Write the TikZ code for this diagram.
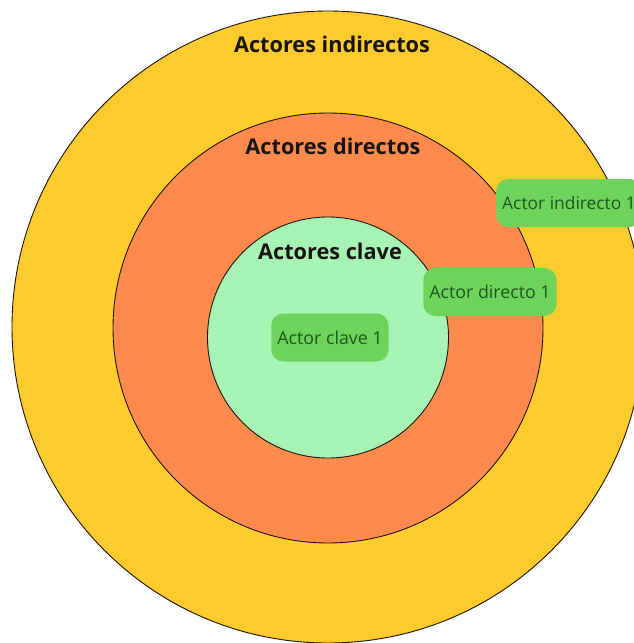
\documentclass[tikz,border=0pt]{standalone}
\usepackage{fontspec}
\setmainfont{Open Sans}
\definecolor{ringout}{HTML}{FECB2E}
\definecolor{ringmid}{HTML}{FE8B4D}
\definecolor{ringin}{HTML}{A7F3B4}
\definecolor{chip}{HTML}{6DD35A}
\definecolor{chiptext}{HTML}{1B561D}
\definecolor{titletext}{HTML}{161414}
\begin{document}
\begin{tikzpicture}[x=1pt,y=-1pt,
  ring/.style={draw=black!85!brown, line width=0.9pt},
  ringtitle/.style={font=\bfseries\fontsize{21.7}{24}\selectfont, text=titletext, inner sep=0pt},
  actor/.style={fill=chip, rounded corners=12pt, text=chiptext,
    font=\fontsize{17.8}{20}\selectfont, minimum height=48pt,
    inner xsep=6pt, inner ysep=0pt}]
  \clip (0,0) rectangle (634,643);
  \fill[white] (0,0) rectangle (634,643);

  % three nested rings
  \filldraw[ring, fill=ringout] (328,327) circle[radius=316pt];
  \filldraw[ring, fill=ringmid] (328,328) circle[radius=215pt];
  \filldraw[ring, fill=ringin]  (328,337.5) circle[radius=120.5pt];

  % ring titles
  \node[ringtitle] (tindir) at (332,44.5) {Actores indirectos};
  \node[ringtitle] (tdir)   at (333,146.5) {Actores directos};
  \node[ringtitle] (tclave) at (330,251.5) {Actores clave};

  % actor chips (the last one runs past the right edge)
  \node[actor] (aclave) at (330,337.5) {Actor clave 1};
  \node[actor] (adir)   at (490,292) {Actor directo 1};
  \node[actor, anchor=west, font=\fontsize{17.4}{20}\selectfont] (aindir) at (496,203) {Actor indirecto 1};
\end{tikzpicture}
\end{document}
